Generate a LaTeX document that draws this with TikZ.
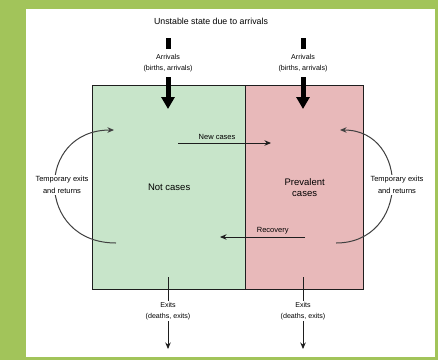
\documentclass[tikz,border=0pt]{standalone}
\usepackage{fontspec}
\setmainfont{Liberation Sans}
\usetikzlibrary{arrows.meta}
\definecolor{framegreen}{RGB}{162,196,90}
\definecolor{gfill}{RGB}{200,229,202}
\definecolor{rfill}{RGB}{232,185,186}
\definecolor{ink}{RGB}{30,30,30}
\tikzset{
  stbox/.style={draw=ink, line width=1.3pt, minimum width=#1, minimum height=204pt, inner sep=0pt,
    font=\fontsize{9.5}{11}\selectfont, align=center, anchor=north west, text=black},
  tiny/.style={font=\fontsize{7.1}{11}\selectfont, align=center, inner sep=1pt, text=black},
  side/.style={font=\fontsize{7.5}{12}\selectfont, align=center, inner sep=1pt, fill=white, text=black},
  thickarr/.style={line width=5pt, draw=black, -{Triangle[width=13pt,length=12pt]}},
  thinarr/.style={line width=0.9pt, draw=ink, -{Stealth[width=5.5pt,length=6.5pt]}},
  curvarr/.style={line width=1pt, draw=ink!85, -{Stealth[width=5.5pt,length=6.5pt]}},
}
\begin{document}
\begin{tikzpicture}[x=1pt,y=-1pt]
\fill[framegreen] (0,0) rectangle (438,360);
\fill[white] (26,9) rectangle (435,357);
\useasboundingbox (0,0) rectangle (438,360);

\node[font=\fontsize{8.8}{10}\selectfont, text=black] (title) at (211,21) {Unstable state due to arrivals};

\node[stbox=153pt, fill=gfill] (nc) at (92,85) {Not cases};
\node[stbox=118pt, fill=rfill] (pc) at (245,85) {Prevalent\\cases};

% arrivals
\node[tiny] (arrL) at (168,63) {Arrivals\\(births, arrivals)};
\node[tiny] (arrR) at (303,63) {Arrivals\\(births, arrivals)};
\coordinate (barLt) at (168,38); \coordinate (barLb) at (168,49);
\coordinate (barRt) at (303,38); \coordinate (barRb) at (303,49);
\draw[line width=5pt] (barLt) -- (barLb);
\draw[line width=5pt] (barRt) -- (barRb);
\coordinate (tipL) at (168,109); \coordinate (tipR) at (303,109);
\draw[thickarr] (arrL.south |- 0,77) -- (tipL);
\draw[thickarr] (arrR.south |- 0,77) -- (tipR);

% exits
\node[tiny] (exL) at (168,311) {Exits\\(deaths, exits)};
\node[tiny] (exR) at (303,311) {Exits\\(deaths, exits)};
\coordinate (exLt) at (168,277); \coordinate (exRt) at (303,277);
\draw[line width=0.9pt, ink] (exLt) -- (exL.north);
\draw[line width=0.9pt, ink] (exRt) -- (exR.north);
\coordinate (exLe) at (168,349); \coordinate (exRe) at (303,349);
\draw[thinarr] (exL.south) -- (exLe);
\draw[thinarr] (exR.south) -- (exRe);

% new cases / recovery
\coordinate (ncs) at (178,143); \coordinate (nce) at (271,143);
\draw[thinarr] (ncs) -- node[tiny, above=2pt, pos=0.42] (nclab) {\fontsize{7.5}{9}\selectfont New cases} (nce);
\coordinate (rcs) at (305,237); \coordinate (rce) at (220,237);
\draw[thinarr] (rcs) -- node[tiny, above=2pt, pos=0.38] (rclab) {\fontsize{7.5}{9}\selectfont Recovery} (rce);

% temporary exits
\coordinate (lcs) at (116,243); \coordinate (lce) at (114,130);
\draw[curvarr] (lcs) .. controls (35,243) and (35,130) .. (lce);
\node[side] (tl) at (62,185) {Temporary exits\\and returns};
\coordinate (rcs2) at (336,243); \coordinate (rce2) at (340,130);
\draw[curvarr] (rcs2) .. controls (410,243) and (410,130) .. (rce2);
\node[side] (tr) at (397,185) {Temporary exits\\and returns};
\end{tikzpicture}
\end{document}
